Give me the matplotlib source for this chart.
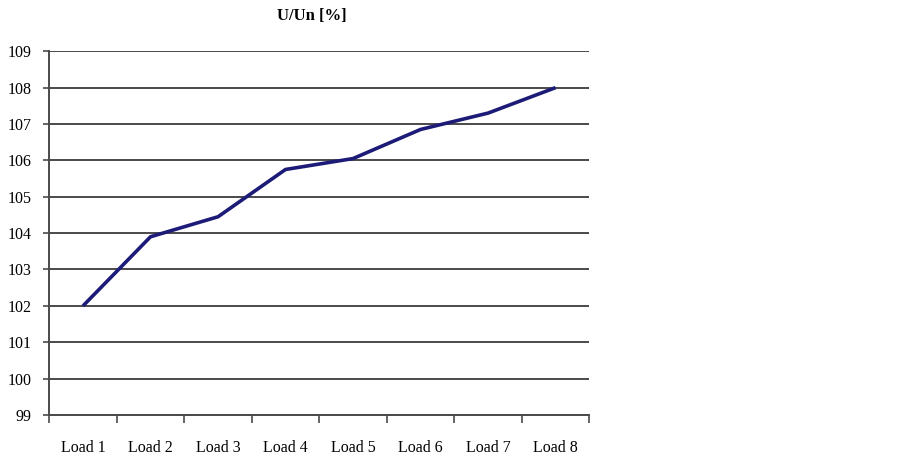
import numpy as np
import matplotlib.pyplot as plt

loads = ["Load 1", "Load 2", "Load 3", "Load 4", "Load 5", "Load 6", "Load 7", "Load 8"]
u_un = [102.0, 103.9, 104.45, 105.75, 106.05, 106.85, 107.3, 108.0]
yticks = list(range(99, 110))

plt.rcParams["font.family"] = "Liberation Serif"

fig = plt.figure(figsize=(8.99, 4.59), dpi=100)
ax = fig.add_axes([0.0548, 0.0959, 0.6007, 0.7924])

x = np.arange(len(loads)) + 0.5
ax.plot(x, u_un, color="#1c1c78", linewidth=2.6, solid_capstyle="butt", zorder=3)

ax.set_xlim(0, len(loads))
ax.set_ylim(99, 109)
ax.set_yticks(yticks)
ax.set_yticklabels([str(v) for v in yticks], fontsize=11.5)

# category ticks sit on the boundaries, labels in the middle
ax.set_xticks(np.arange(len(loads) + 1))
ax.set_xticklabels([])
ax.set_xticks(x, minor=True)
ax.set_xticklabels(loads, minor=True, fontsize=11.5)
ax.tick_params(axis="x", which="major", length=6, width=1.2, color="#4a4a4a", direction="out")
ax.tick_params(axis="x", which="minor", length=0, pad=18)
ax.tick_params(axis="y", length=4, width=1.2, color="#4a4a4a", pad=9)

ax.grid(axis="y", color="#4a4a4a", linewidth=1.4)
ax.set_axisbelow(True)
for s in ["top", "right"]:
    ax.spines[s].set_visible(False)
for s in ["left", "bottom"]:
    ax.spines[s].set_color("#4a4a4a")
    ax.spines[s].set_linewidth(1.4)

fig.text(312 / 899, 1 - 16 / 459, "U/Un [%]", ha="center", va="center",
         fontsize=12, fontweight="bold")

plt.savefig("out.png")
